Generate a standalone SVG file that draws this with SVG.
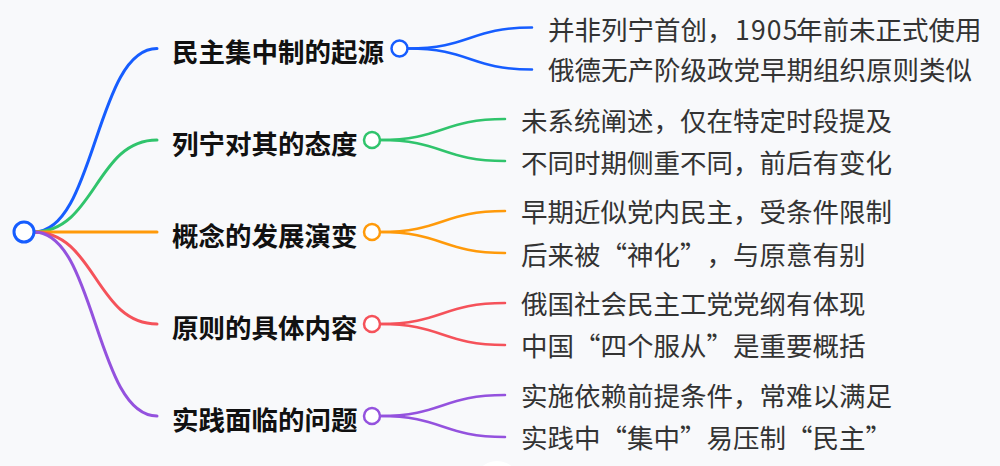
<svg xmlns="http://www.w3.org/2000/svg" width="1000" height="466" viewBox="0 0 1000 466">
<style>
.bg{fill:#f8f9fb}
.lk{fill:none;stroke-linecap:round}
.br{stroke-width:3}
.lf{stroke-width:2.5}
.dot{fill:#fff;stroke-width:2.5}
.nt{font-family:"Noto Sans CJK SC","Noto Sans",sans-serif;font-size:26.5px;font-weight:700;fill:#111}
.lt{font-family:"Noto Sans CJK SC","Noto Sans",sans-serif;font-size:26.5px;font-weight:400;fill:#333;text-spacing-trim:space-all}
.b{stroke:#165dff}.g{stroke:#30c46c}.o{stroke:#ff9a0a}.r{stroke:#f5525a}.p{stroke:#9452de}
</style>
<rect class="bg" x="0" y="0" width="1000" height="466"/>
<circle cx="497" cy="484" r="23" fill="#ffffff"/>
<g id="connectors">
<path class="lk br b" d="M34,232 C95.5,232 95.5,48.5 157,48.5"/>
<path class="lk br g" d="M34,232 C95.5,232 95.5,140 157,140"/>
<path class="lk br o" d="M34,232 L157,232"/>
<path class="lk br r" d="M34,232 C95.5,232 95.5,324 157,324"/>
<path class="lk br p" d="M34,232 C95.5,232 95.5,416 157,416"/>
<path class="lk lf b" d="M408,48.5 C470,48.5 470,27.5 532,27.5"/>
<path class="lk lf b" d="M408,48.5 C470,48.5 470,69.5 532,69.5"/>
<path class="lk lf g" d="M380,140 C442.5,140 442.5,119 505,119"/>
<path class="lk lf g" d="M380,140 C442.5,140 442.5,161 505,161"/>
<path class="lk lf o" d="M380,232 C442.5,232 442.5,211 505,211"/>
<path class="lk lf o" d="M380,232 C442.5,232 442.5,253 505,253"/>
<path class="lk lf r" d="M380,324 C442.5,324 442.5,303 505,303"/>
<path class="lk lf r" d="M380,324 C442.5,324 442.5,345 505,345"/>
<path class="lk lf p" d="M380,416 C442.5,416 442.5,395 505,395"/>
<path class="lk lf p" d="M380,416 C442.5,416 442.5,437 505,437"/>
</g>
<g id="root">
<circle cx="24" cy="232" r="10" fill="#fff" stroke="#165dff" stroke-width="3"/>
</g>
<g id="n1">
<text class="nt" x="172" y="62">民主集中制的起源</text>
<circle class="dot b" cx="399.5" cy="48.5" r="8"/>
</g>
<g id="n2">
<text class="nt" x="172" y="154">列宁对其的态度</text>
<circle class="dot g" cx="372" cy="140" r="8"/>
</g>
<g id="n3">
<text class="nt" x="172" y="246">概念的发展演变</text>
<circle class="dot o" cx="372" cy="232" r="8"/>
</g>
<g id="n4">
<text class="nt" x="172" y="338">原则的具体内容</text>
<circle class="dot r" cx="372" cy="324" r="8"/>
</g>
<g id="n5">
<text class="nt" x="172" y="430">实践面临的问题</text>
<circle class="dot p" cx="372" cy="416" r="8"/>
</g>
<g id="l1a"><text class="lt" x="548" y="39.5">并非列宁首创，<tspan x="735" letter-spacing="1.2">1905</tspan><tspan x="796">年前未正式使用</tspan></text></g>
<g id="l1b"><text class="lt" x="548" y="80">俄德无产阶级政党早期组织原则类似</text></g>
<g id="l2a"><text class="lt" x="521" y="130.5">未系统阐述，仅在特定时段提及</text></g>
<g id="l2b"><text class="lt" x="521" y="172.5">不同时期侧重不同，前后有变化</text></g>
<g id="l3a"><text class="lt" x="521" y="221.5">早期近似党内民主，受条件限制</text></g>
<g id="l3b"><text class="lt" x="521" y="265">后来被“神化”<tspan x="706.5">，与原意有别</tspan></text></g>
<g id="l4a"><text class="lt" x="521" y="314">俄国社会民主工党党纲有体现</text></g>
<g id="l4b"><text class="lt" x="521" y="356">中国“四个服从”是重要概括</text></g>
<g id="l5a"><text class="lt" x="521" y="406">实施依赖前提条件，常难以满足</text></g>
<g id="l5b"><text class="lt" x="521" y="447.5">实践中“集中”易压制“民主”</text></g>
</svg>
